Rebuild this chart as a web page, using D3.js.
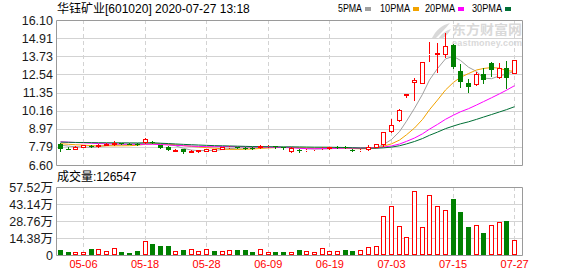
<!DOCTYPE html>
<html>
<head>
<meta charset="utf-8">
<script src="https://cdn.jsdelivr.net/npm/d3@7"></script>
<style>
  body { margin: 0; background: #fff; }
  svg { display: block; font-family: "Liberation Sans", "Noto Sans CJK SC", sans-serif; }
</style>
</head>
<body>
<svg width="578" height="276"></svg>
<script>
const WIDTH = 578;
const HEIGHT = 276;

const dates = [
  '04-28', '04-29', '04-30', '05-06', '05-07', '05-08', '05-11', '05-12', '05-13', '05-14',
  '05-15', '05-18', '05-19', '05-20', '05-21', '05-22', '05-25', '05-26', '05-27', '05-28',
  '05-29', '06-01', '06-02', '06-03', '06-04', '06-05', '06-08', '06-09', '06-10', '06-11',
  '06-12', '06-15', '06-16', '06-17', '06-18', '06-19', '06-22', '06-23', '06-24', '06-29',
  '06-30', '07-01', '07-02', '07-03', '07-06', '07-07', '07-08', '07-09', '07-10', '07-13',
  '07-14', '07-15', '07-16', '07-17', '07-20', '07-21', '07-22', '07-23', '07-24', '07-27',
];

const opens = [
  7.95, 7.68, 7.67, 7.78, 7.86, 7.84, 7.92, 7.98, 8.03, 8.00,
  7.99, 8.10, 8.12, 7.90, 7.80, 7.54, 7.62, 7.46, 7.50, 7.54,
  7.55, 7.67, 7.75, 7.76, 7.74, 7.72, 7.78, 7.82, 7.82, 7.75,
  7.55, 7.60, 7.56, 7.62, 7.70, 7.72, 7.80, 7.80, 7.60, 7.58,
  7.63, 7.80, 7.95, 8.85, 9.55, 11.20, 12.02, 11.99, 13.88, 13.90,
  13.87, 14.43, 12.75, 11.99, 11.90, 12.54, 13.26, 12.39, 12.94, 12.60,
];
const highs = [
  8.06, 7.78, 7.82, 7.93, 7.88, 8.00, 8.04, 8.17, 8.06, 8.03,
  8.02, 8.35, 8.18, 7.94, 7.82, 7.66, 7.64, 7.56, 7.58, 7.66,
  7.68, 7.80, 7.82, 7.80, 7.78, 7.75, 7.88, 7.88, 7.86, 7.78,
  7.76, 7.64, 7.64, 7.68, 7.80, 7.78, 7.82, 7.82, 7.62, 7.66,
  7.88, 8.00, 8.76, 9.61, 10.25, 11.22, 12.32, 13.38, 14.66, 14.60,
  15.23, 14.50, 13.22, 12.25, 12.70, 12.94, 13.33, 13.30, 13.43, 13.48,
];
const lows = [
  7.54, 7.62, 7.65, 7.76, 7.76, 7.76, 7.88, 7.90, 7.96, 7.95,
  7.92, 8.06, 8.05, 7.72, 7.56, 7.52, 7.40, 7.42, 7.47, 7.52,
  7.50, 7.64, 7.72, 7.70, 7.68, 7.66, 7.74, 7.78, 7.74, 7.68,
  7.48, 7.48, 7.52, 7.58, 7.66, 7.68, 7.72, 7.72, 7.50, 7.50,
  7.57, 7.78, 7.85, 8.74, 9.50, 11.08, 10.86, 11.95, 13.40, 12.71,
  13.65, 12.95, 11.69, 11.40, 11.83, 11.99, 12.43, 12.28, 11.62, 12.60,
];
const closes = [
  7.65, 7.63, 7.80, 7.91, 7.78, 7.88, 8.00, 8.02, 8.00, 7.98,
  7.96, 8.28, 8.10, 7.74, 7.58, 7.60, 7.43, 7.53, 7.56, 7.63,
  7.62, 7.76, 7.78, 7.74, 7.72, 7.70, 7.82, 7.84, 7.78, 7.70,
  7.72, 7.55, 7.60, 7.66, 7.74, 7.75, 7.76, 7.74, 7.54, 7.60,
  7.80, 7.98, 8.76, 9.20, 10.20, 11.22, 12.20, 13.35, 13.90, 13.93,
  14.40, 13.00, 12.02, 11.69, 12.54, 12.20, 12.82, 12.94, 12.28, 13.48,
];
// closes before the first visible day, needed to seed the moving averages
const priorCloses = [
  8.02, 8.10, 8.05, 7.98, 8.04, 8.12, 8.08, 8.03, 8.10, 8.08,
  8.15, 8.22, 8.30, 8.28, 8.35, 8.26, 8.20, 8.18, 8.24, 8.22,
  8.05, 8.12, 8.15, 8.10, 8.08, 7.95, 8.00, 7.98, 7.92,
];
// volume in 万
const volumes = [
  4.2, 2.5, 2.2, 2.2, 5.1, 5.1, 3.1, 5.6, 2.5, 1.7,
  3.4, 11.5, 9.3, 7.6, 7.6, 3.4, 4.2, 5.1, 3.6, 5.1,
  3.4, 3.1, 4.2, 4.2, 4.2, 2.5, 5.1, 2.2, 2.5, 2.5,
  2.5, 4.2, 3.1, 2.5, 5.6, 3.1, 3.1, 4.2, 3.4, 4.2,
  6.5, 7.6, 32.8, 41.3, 24.4, 15.2, 53.9, 23.6, 50.5, 41.3,
  37.9, 47.4, 36.2, 23.9, 25.3, 18.5, 25.3, 27.8, 28.9, 12.65,
];

const priceTicks = [6.60, 7.79, 8.97, 10.16, 11.35, 12.54, 13.73, 14.91, 16.10];
const volumeTicks = [0, 14.38, 28.76, 43.14, 57.52];
const dateTicks = ['05-06', '05-18', '05-28', '06-09', '06-19', '07-03', '07-15', '07-27'];

const maPeriods = [5, 10, 20, 30];
const maNames = ['5PMA', '10PMA', '20PMA', '30PMA'];
const maColors = ['#a0a0a0', '#f2a300', '#ff00ff', '#006f35'];

const UP = '#ff0000';
const DOWN = '#008000';
const GRID = '#d3d3d3';
const BORDER = '#9a9a9a';

function movingAverage(n) {
  const all = priorCloses.concat(closes);
  const off = priorCloses.length;
  return closes.map((_, i) => d3.mean(all.slice(off + i - n + 1, off + i + 1)));
}

const svg = d3.select('svg');
const left = 56;
const right = 522;
const pTop = 20, pBottom = 165;
const vTop = 187, vBottom = 255;

const x = d3.scaleBand().domain(dates).range([56.5, 518.5]);
const cx = (d) => Math.floor(x(d) + x.bandwidth() / 2);
const yP = d3.scaleLinear().domain([6.6, 16.1]).range([pBottom, pTop]);
const yV = d3.scaleLinear().domain([0, 57.52]).range([vBottom, vTop]);
const px = (v) => Math.round(v) + 0.5;

// title + legend
svg.append('text')
  .attr('x', 57).attr('y', 13)
  .attr('font-size', 12).attr('fill', '#000')
  .text('华钰矿业[601020] 2020-07-27 13:18');

const legendX = [338, 380, 425, 472];
maNames.forEach((name, i) => {
  const w = name.length === 4 ? 24 : 30;
  svg.append('text')
    .attr('x', legendX[i]).attr('y', 12)
    .attr('font-size', 10).attr('fill', '#000')
    .attr('textLength', w)
    .attr('lengthAdjust', 'spacingAndGlyphs')
    .text(name);
  svg.append('rect')
    .attr('x', legendX[i] + w + 3).attr('y', 7)
    .attr('width', 6).attr('height', 4)
    .attr('fill', maColors[i]);
});

function drawGrid(ticks, y, top, bottom) {
  const g = svg.append('g');
  g.selectAll('line.h')
    .data(ticks.slice(1, -1))
    .join('line')
    .attr('x1', left).attr('x2', right)
    .attr('y1', (d) => px(y(d))).attr('y2', (d) => px(y(d)))
    .attr('stroke', GRID);
  g.selectAll('line.v')
    .data(dateTicks)
    .join('line')
    .attr('x1', (d) => cx(d) + 0.5).attr('x2', (d) => cx(d) + 0.5)
    .attr('y1', top).attr('y2', bottom)
    .attr('stroke', GRID)
    .attr('stroke-dasharray', '4,3');
  g.append('path')
    .attr('d', `M${left + 0.5},${top + 0.5}H${right + 0.5}V${bottom + 0.5}H${left + 0.5}Z`)
    .attr('fill', 'none')
    .attr('stroke', BORDER);
}

drawGrid(priceTicks, yP, pTop, pBottom);
drawGrid(volumeTicks, yV, vTop, vBottom);

// axes (labels only)
const yAxisP = svg.append('g')
  .attr('transform', `translate(${left - 1},0)`)
  .call(d3.axisLeft(yP).tickValues(priceTicks).tickSize(0).tickPadding(2).tickFormat(d3.format('.2f')));
yAxisP.select('.domain').remove();

const yAxisV = svg.append('g')
  .attr('transform', `translate(${left - 1},0)`)
  .call(d3.axisLeft(yV).tickValues(volumeTicks).tickSize(0).tickPadding(2)
    .tickFormat((d) => (d === 0 ? '0' : d.toFixed(2) + '万')));
yAxisV.select('.domain').remove();

[yAxisP, yAxisV].forEach((a) => {
  a.selectAll('text')
    .attr('font-size', 12.5)
    .attr('font-family', '"Liberation Sans", "Noto Sans CJK SC", sans-serif')
    .attr('fill', '#1a1a1a');
});

const xAxis = svg.append('g')
  .attr('transform', `translate(0,${vBottom})`)
  .call(d3.axisBottom(x).tickValues(dateTicks).tickSize(0).tickPadding(5));
xAxis.select('.domain').remove();
xAxis.selectAll('text')
  .attr('font-size', 11)
  .attr('font-family', '"Liberation Sans", sans-serif')
  .attr('fill', '#ff0000');

svg.append('text')
  .attr('x', 57).attr('y', 181)
  .attr('font-size', 12).attr('fill', '#000')
  .text('成交量:126547');

// watermark
const wm = svg.append('g').attr('fill', '#d9d9d9');
wm.append('path').attr('d', 'M432,38 C436,30 442,25 450,23 C446,28 441,33 436,38 Z');
wm.append('path').attr('d', 'M438,39 C442,33 447,30 451,29 C449,33 446,36 442,39 Z');
wm.append('text')
  .attr('x', 452).attr('y', 34)
  .attr('font-size', 13).attr('font-weight', 'bold')
  .attr('font-family', '"Noto Sans CJK SC", sans-serif')
  .attr('textLength', 70)
  .attr('lengthAdjust', 'spacingAndGlyphs')
  .text('东方财富网');
wm.append('text')
  .attr('x', 452).attr('y', 46)
  .attr('font-size', 9).attr('font-weight', 'bold')
  .attr('textLength', 70)
  .text('eastmoney.com');

// moving averages
const maG = svg.append('g');
maPeriods.forEach((n, k) => {
  const ma = movingAverage(n);
  maG.append('path')
    .datum(ma)
    .attr('fill', 'none')
    .attr('stroke', maColors[k])
    .attr('stroke-width', 1)
    .attr('d', d3.line()
      .x((_, i) => cx(dates[i]) + 0.5)
      .y((d) => yP(d)));
});

// candles
const candles = svg.append('g');
dates.forEach((d, i) => {
  const o = opens[i], c = closes[i], h = highs[i], l = lows[i];
  const up = c >= o;
  const col = up ? UP : DOWN;
  const xc = cx(d);
  const top = Math.round(yP(Math.max(o, c)));
  const bot = Math.round(yP(Math.min(o, c)));
  const hi = Math.round(yP(h));
  const lo = Math.round(yP(l));
  if (up) {
    if (hi < top) {
      candles.append('line').attr('x1', xc + 0.5).attr('x2', xc + 0.5)
        .attr('y1', hi).attr('y2', top).attr('stroke', col);
    }
    if (lo > bot) {
      candles.append('line').attr('x1', xc + 0.5).attr('x2', xc + 0.5)
        .attr('y1', bot + 1).attr('y2', lo + 1).attr('stroke', col);
    }
    candles.append('rect')
      .attr('x', xc - 1.5).attr('y', top + 0.5)
      .attr('width', 4).attr('height', Math.max(bot - top, 0))
      .attr('fill', '#fff').attr('stroke', col);
  } else {
    candles.append('line').attr('x1', xc + 0.5).attr('x2', xc + 0.5)
      .attr('y1', hi).attr('y2', lo + 1).attr('stroke', col);
    candles.append('rect')
      .attr('x', xc - 2).attr('y', top)
      .attr('width', 5).attr('height', Math.max(bot - top, 1))
      .attr('fill', col);
  }
});

// volume bars, coloured by close against previous close
const bars = svg.append('g');
dates.forEach((d, i) => {
  const prev = i === 0 ? priorCloses[priorCloses.length - 1] : closes[i - 1];
  const up = closes[i] >= prev;
  const xc = cx(d);
  const top = Math.round(yV(volumes[i]));
  if (up) {
    bars.append('rect')
      .attr('x', xc - 1.5).attr('y', top + 0.5)
      .attr('width', 4).attr('height', vBottom - top - 1)
      .attr('fill', '#fff').attr('stroke', UP);
  } else {
    bars.append('rect')
      .attr('x', xc - 2).attr('y', top)
      .attr('width', 5).attr('height', vBottom - top)
      .attr('fill', DOWN);
  }
});
</script>
</body>
</html>
